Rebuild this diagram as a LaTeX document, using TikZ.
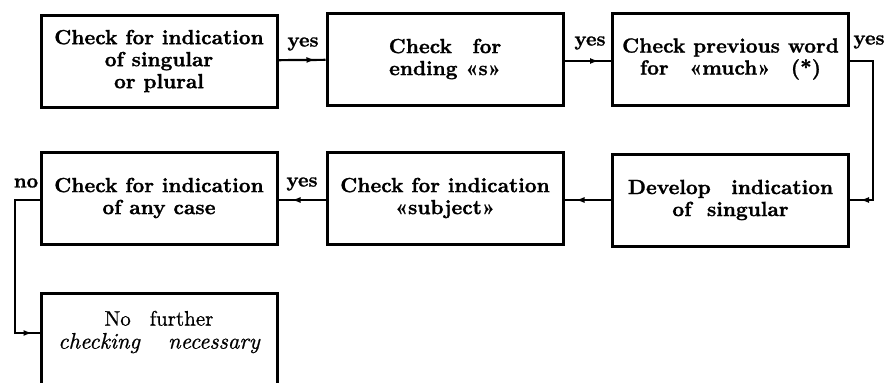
\documentclass[tikz,border=0pt]{standalone}
\usepackage{fontspec}
\newfontfamily\heavyfont{lmroman10-bold.otf}[FakeBold=1.2]
\newfontfamily\midfont{lmroman10-regular.otf}[FakeBold=0.8, ItalicFont=lmroman10-italic.otf, ItalicFeatures={FakeBold=0.8}]
\usetikzlibrary{arrows.meta,decorations.markings}
\begin{document}
\begin{tikzpicture}[x=1pt,y=-1pt,
  box/.style={draw, line width=3pt, minimum width=236pt, minimum height=92pt,
    inner sep=0pt, align=center, font=\fontsize{20.5}{22}\selectfont\heavyfont},
  conn/.style={line width=2.2pt},
  tipat/.style={postaction={decorate}, decoration={markings,
    mark=at position #1 with {\arrow{Latex[length=9pt,width=6pt]}}}},
  lbl/.style={font=\fontsize{20}{20}\selectfont\heavyfont, inner sep=0pt}]
\useasboundingbox (0,0) rectangle (887,383);
\clip (0,0) rectangle (887,383);
\node[box] (b1) at (159,61) {Check for indication\\of singular\\or plural};
\node[box] (b2) at (445,59) {Check\quad for\\ending «s»};
\node[box] (b3) at (730.5,59) {Check previous word\\for\quad «much»\quad (*)};
\node[box] (b4) at (730.5,200) {Develop\quad indication\\of\ \ singular};
\node[box] (b5) at (445,198) {Check for indication\\«subject»};
\node[box] (b6) at (159,198) {Check for indication\\of\ any\ case};
\node[box, anchor=north, minimum height=120pt] (b7) at (159,292) {};
\node[align=center, font=\fontsize{21}{23}\selectfont\midfont] (b7t) at (159,332) {No\hspace{0.9em}further\\{\fontsize{22.5}{23}\selectfont\itshape checking\hspace{1.25em}necessary}};
\coordinate (r1) at (873,61);
\coordinate (l1) at (15,333);
\draw[conn, tipat=-10pt] (b1) -- (b2);
\draw[conn, tipat=-12pt] (b2.east |- b1) -- (b3.west |- b1);
\draw[conn, tipat=-10pt] (b3.east |- b1) -- (r1) |- (b4.east);
\draw[conn, tipat=-11pt] (b4) -- (b5.east |- b4);
\draw[conn, tipat=-13pt] (b5.west |- b4) -- (b6.east |- b4);
\draw[conn, tipat=-7pt] (b6.west |- b4) -| (l1) -- (l1 -| b7.west);
\node[lbl] (y1) at (303,44) {yes};
\node[lbl] (y2) at (590,43) {yes};
\node[lbl] (y3) at (869,42) {yes};
\node[lbl] (y4) at (302,184) {yes};
\node[lbl] (n1) at (26,183) {no};
\end{tikzpicture}
\end{document}
